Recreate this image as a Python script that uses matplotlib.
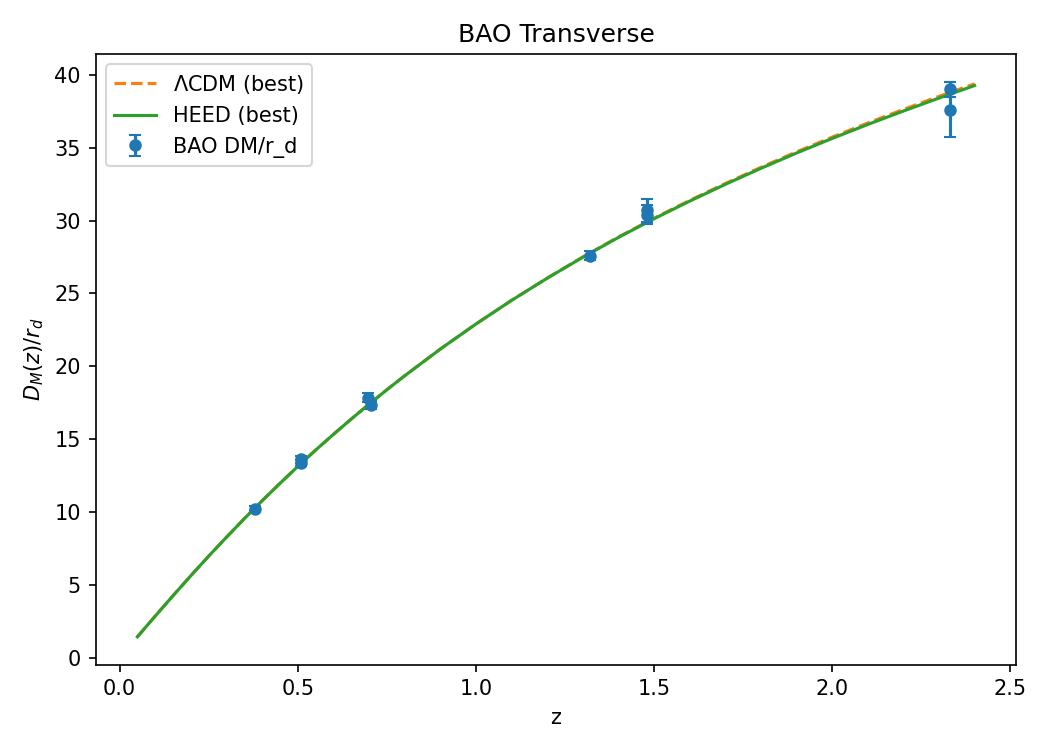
import numpy as np
import matplotlib
matplotlib.use("Agg")
import matplotlib.pyplot as plt

# model curves
z_curve = [0.05, 0.1, 0.15, 0.2, 0.25, 0.3, 0.35, 0.4, 0.45, 0.5, 0.55, 0.6,
           0.65, 0.7, 0.75, 0.8, 0.9, 1.0, 1.1, 1.2, 1.3, 1.4, 1.5, 1.6, 1.7,
           1.8, 1.9, 2.0, 2.1, 2.2, 2.3, 2.4]
dm_heed = [1.45, 2.87, 4.27, 5.64, 6.98, 8.28, 9.55, 10.78, 11.97, 13.13,
           14.25, 15.33, 16.38, 17.40, 18.39, 19.35, 21.18, 22.90, 24.52,
           26.04, 27.48, 28.84, 30.12, 31.33, 32.48, 33.58, 34.63, 35.63,
           36.59, 37.51, 38.40, 39.26]
dm_lcdm = [1.45, 2.87, 4.27, 5.64, 6.98, 8.28, 9.55, 10.78, 11.97, 13.13,
           14.25, 15.33, 16.38, 17.40, 18.39, 19.35, 21.18, 22.90, 24.52,
           26.05, 27.50, 28.87, 30.16, 31.38, 32.54, 33.65, 34.71, 35.72,
           36.69, 37.62, 38.52, 39.38]

# BAO data
z_bao = [0.38, 0.51, 0.51, 0.698, 0.706, 1.32, 1.48, 1.48, 2.33, 2.33]
dm_bao = [10.23, 13.36, 13.62, 17.86, 17.35, 27.60, 30.69, 30.40, 38.99, 37.60]
err_bao = [0.17, 0.21, 0.25, 0.33, 0.30, 0.30, 0.80, 0.65, 0.53, 1.90]

fig, ax = plt.subplots(figsize=(7, 5), dpi=150)
ax.plot(z_curve, dm_lcdm, "--", color="tab:orange", label=r"$\Lambda$CDM (best)")
ax.plot(z_curve, dm_heed, "-", color="tab:green", label="HEED (best)")
ax.errorbar(z_bao, dm_bao, yerr=err_bao, fmt="o", color="tab:blue",
            markersize=5, capsize=3, label="BAO DM/r_d")
ax.set_xlabel("z")
ax.set_ylabel(r"$D_M(z)/r_d$")
ax.set_title("BAO Transverse")
ax.legend(loc="upper left")
fig.tight_layout()
fig.savefig("out.png")
